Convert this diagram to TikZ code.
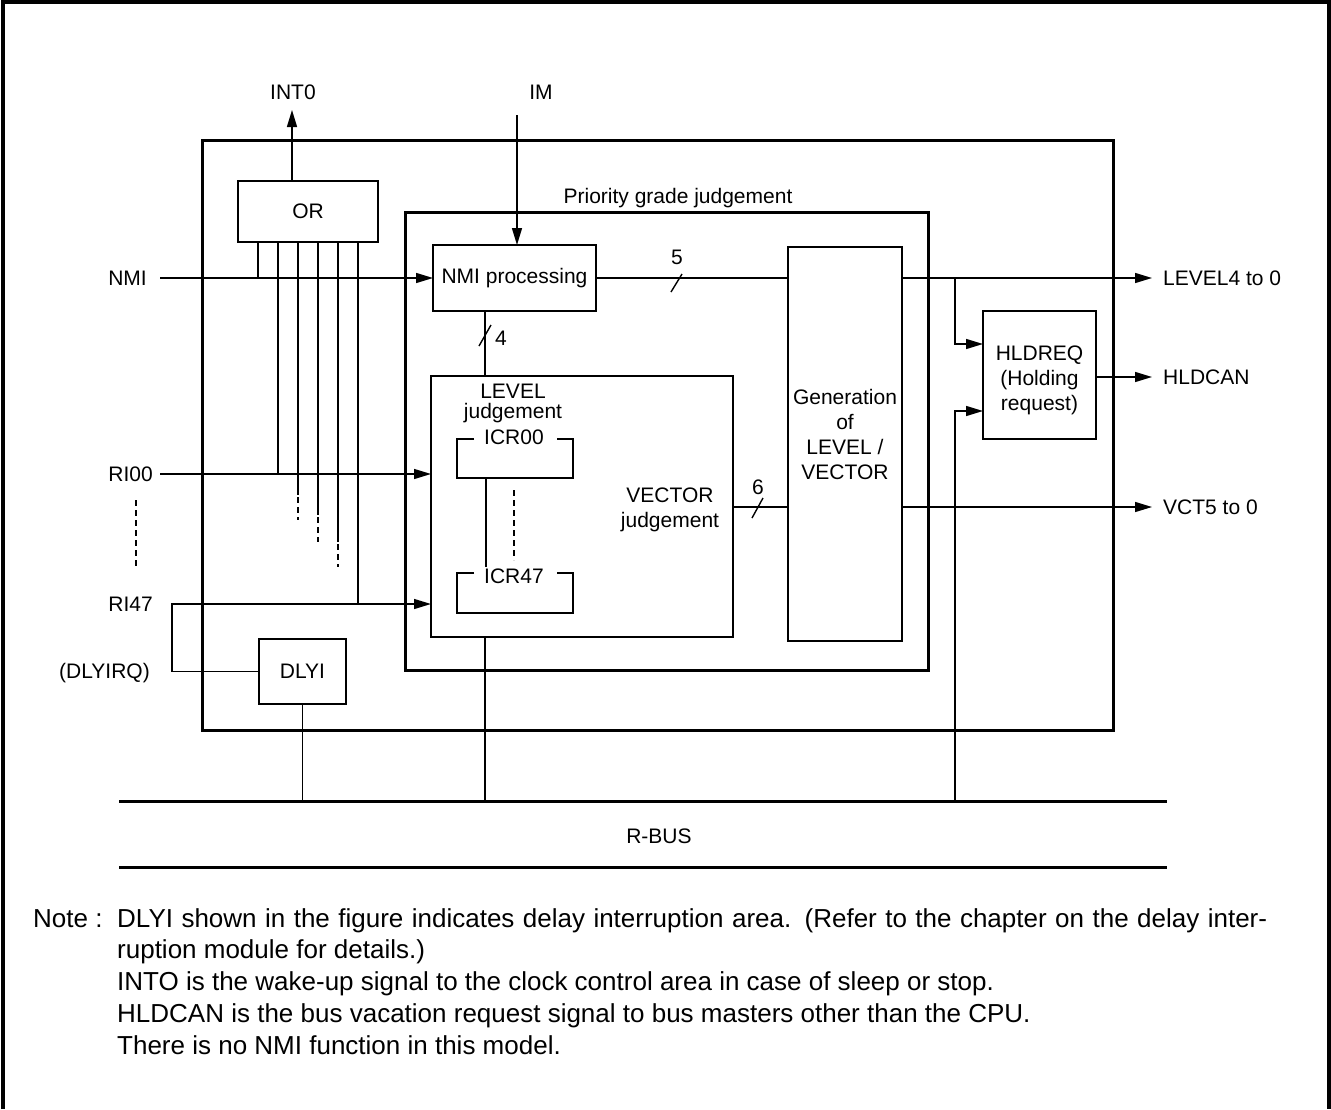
\documentclass[tikz,border=0pt]{standalone}
\usepackage{fontspec}
\setmainfont{Liberation Sans}
\usetikzlibrary{arrows.meta,calc}
\newcommand\lblfont{\fontsize{21}{25}\selectfont}
\newcommand\notefont{\fontsize{26}{31.75}\selectfont}
\begin{document}
\begin{tikzpicture}[x=1pt,y=-1pt,
  box/.style={draw, line width=2.5pt, inner sep=0pt, outer sep=0pt},
  bigbox/.style={draw, line width=3pt, inner sep=0pt, outer sep=0pt},
  thin/.style={line width=1.4pt},
  thickln/.style={line width=3pt},
  arr/.style={thin, -{Triangle[length=17pt,width=10pt]}},
  dsh/.style={thin, dash pattern=on 6pt off 4pt},
  lab/.style={font=\lblfont, inner sep=0pt, text height=15pt, text depth=0pt},
  txt/.style={font=\lblfont, inner sep=0pt, anchor=base},
  note/.style={font=\notefont, inner sep=0pt, anchor=base west},
]
\useasboundingbox (0,0) rectangle (1331,1109);
% outer frame (open at the bottom)
\draw[line width=4pt] (3,1109) -- (3,2) -- (1329,2) -- (1329,1109);

% boxes
\node[bigbox, minimum width=911pt, minimum height=590pt] (chip) at (657.5,435) {};
\node[bigbox, minimum width=523pt, minimum height=458pt] (prio) at (666.5,441) {};
\node[box, minimum width=140pt, minimum height=61pt, font=\lblfont] (orbox) at (308,211.5) {OR};
\node[box, minimum width=163pt, minimum height=66pt, font=\lblfont] (nmip) at (514.5,278) {NMI processing};
\node[box, minimum width=302pt, minimum height=261pt] (level) at (582,506.5) {};
\node[box, minimum width=114pt, minimum height=394pt] (gen) at (845,444) {};
\node[box, minimum width=113pt, minimum height=128pt] (hld) at (1039.5,375) {};
\node[box, minimum width=87pt, minimum height=65pt, font=\lblfont] (dlyi) at (302.5,671.5) {DLYI};

% texts inside boxes
\node[lab] (prl) at (678,196) {Priority grade judgement};
\node[txt] (lj1) at (513,398) {LEVEL};
\node[txt] (lj2) at (513,418) {judgement};
\node[txt] (vj1) at (670,502) {VECTOR};
\node[txt] (vj2) at (670,527) {judgement};
\node[txt] (g1) at (845,404) {Generation};
\node[txt] (g2) at (845,429) {of};
\node[txt] (g3) at (845,454) {LEVEL /};
\node[txt] (g4) at (845,479) {VECTOR};
\node[txt] (h1) at (1039.5,360) {HLDREQ};
\node[txt] (h2) at (1039.5,385) {(Holding};
\node[txt] (h3) at (1039.5,410) {request)};

% ICR brackets
\node[txt] (icr00) at (514,444) {ICR00};
\node[txt] (icr47) at (514,583) {ICR47};
\draw[box] (474,439) -- (457,439) -- (457,478) -- (573,478) -- (573,439) -- (557,439);
\draw[box] (474,573) -- (457,573) -- (457,613) -- (573,613) -- (573,573) -- (557,573);
\coordinate (icrA) at (486,478);
\coordinate (icrB) at (486,567);
\draw[thin] (icrA) -- (icrB);
\coordinate (icrC) at (514,490);
\coordinate (icrD) at (514,560);
\draw[dsh] (icrC) -- (icrD);

% outside labels
\node[lab] (int0) at (293,92) {INT0};
\node[lab] (im) at (541,92) {IM};
\node[lab, anchor=east] (nmil) at (147,278) {NMI};
\node[lab, anchor=east] (ri00) at (153,474) {RI00};
\node[lab, anchor=east] (ri47) at (153,604) {RI47};
\node[lab, anchor=east] (dlyirq) at (150,671) {(DLYIRQ)};
\node[lab, anchor=west] (lvout) at (1163,278) {LEVEL4 to 0};
\node[lab, anchor=west] (hcout) at (1163,377) {HLDCAN};
\node[lab, anchor=west] (vcout) at (1163,507) {VCT5 to 0};
\node[lab] (n5) at (677,257) {5};
\node[lab] (n4) at (501,338) {4};
\node[lab] (n6) at (758,487) {6};
\node[lab] (rbus) at (659,836) {R-BUS};

% coordinates for connectors
\coordinate (nmiS) at (160,278);
\coordinate (ri00S) at (160,474);
\coordinate (ri47S) at (172,604);
\coordinate (int0T) at (292,110);
\coordinate (imS) at (517,115);
\coordinate (lvE) at (1152,278);
\coordinate (hcE) at (1152,377);
\coordinate (vcE) at (1152,507);
\coordinate (busL1) at (119,801);
\coordinate (busR1) at (1167,801);
\coordinate (busL2) at (119,867);
\coordinate (busR2) at (1167,867);
\coordinate (brA) at (955,278);
\coordinate (brB) at (955,801);

% bus
\draw[thickln] (busL1) -- (busR1);
\draw[thickln] (busL2) -- (busR2);

% INT0 and IM
\draw[arr] (orbox.north -| int0T) -- (int0T);
\draw[arr] (imS) -- (imS |- nmip.north);

% inputs
\draw[arr] (nmiS) -- (nmip.west);
\draw[arr] (ri00S) -- (ri00S -| level.west);
\draw[arr] (dlyi.west) -| (ri47S) -- (ri47S -| level.west);

% OR inputs
\draw[thin] (orbox.south -| 258,0) -- (258,278);
\draw[thin] (orbox.south -| 278,0) -- (278,474);
\draw[thin] (orbox.south -| 298,0) -- (298,495);
\draw[dsh] (298,497) -- (298,520);
\draw[thin] (orbox.south -| 318,0) -- (318,515);
\draw[dsh] (318,517) -- (318,542);
\draw[thin] (orbox.south -| 338,0) -- (338,542);
\draw[dsh] (338,544) -- (338,567);
\draw[thin] (orbox.south -| 358,0) -- (358,604);
\draw[dsh] (136,500) -- (136,568);

% internal connections
\draw[thin] (nmip.south -| 485,0) -- (level.north -| 485,0);
\draw[thin] (479,346) -- (491,325);
\draw[thin] (nmip.east) -- (gen.west |- nmip.east);
\draw[thin] (671,292) -- (682,274);
\draw[thin] (level.east |- 0,507) -- (gen.west |- 0,507);
\draw[thin] (752,518) -- (763,498);

% outputs
\draw[arr] (gen.east |- lvE) -- (lvE);
\draw[arr] (brA) |- (hld.west |- 0,344);
\draw[arr] (brB) |- (hld.west |- 0,411);
\draw[arr] (hld.east |- hcE) -- (hcE);
\draw[arr] (gen.east |- vcE) -- (vcE);

% bus connections
\draw[thin] (dlyi.south) -- (dlyi.south |- busL1);
\draw[thin] (level.south -| 485,0) -- (485,801);

% note
\node[note] (nt0) at (33,927) {Note :};
\node[note] (nt1) at (117,927) {\makebox[1150pt][s]{DLYI shown in the figure indicates delay interruption area. (Refer to the chapter on the delay inter-}};
\node[note] (nt2) at (117,958.75) {ruption module for details.)};
\node[note] (nt3) at (117,990.5) {INTO is the wake-up signal to the clock control area in case of sleep or stop.};
\node[note] (nt4) at (117,1022.25) {HLDCAN is the bus vacation request signal to bus masters other than the CPU.};
\node[note] (nt5) at (117,1054) {There is no NMI function in this model.};
\end{tikzpicture}
\end{document}
